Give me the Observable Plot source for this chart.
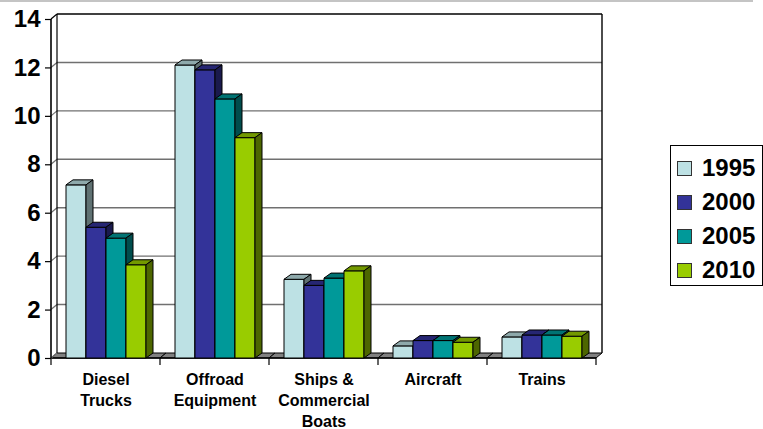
<!DOCTYPE html>
<html><head><meta charset="utf-8">
<script src="https://cdn.jsdelivr.net/npm/d3@7"></script>
<script src="https://cdn.jsdelivr.net/npm/@observablehq/plot@0.6"></script>
<style>
body{margin:0;background:#fff;font-family:"Liberation Sans",Arial,sans-serif;}
#wrap{position:relative;width:763px;height:429px;overflow:hidden;background:#fff;}
.topline{position:absolute;left:0;top:0;width:753px;height:2px;background:#c4c4c4;}
.legend{position:absolute;left:670px;top:145px;width:93px;height:141px;border:1px solid #000;box-sizing:border-box;background:#fff;}
.sw{position:absolute;left:6px;width:15px;height:15px;border:1px solid #333;box-sizing:border-box;}
.lt{position:absolute;left:31px;font-size:24px;font-weight:bold;line-height:28px;color:#000;white-space:nowrap;}
</style></head><body><div id="wrap"><div class="topline"></div></div>
<script>
const categories = ["Diesel Trucks","Offroad Equipment","Ships & Commercial Boats","Aircraft","Trains"];
const categoryLabels = ["Diesel\nTrucks","Offroad\nEquipment","Ships &\nCommercial\nBoats","Aircraft","Trains"];
const years = ["1995","2000","2005","2010"];
const colors = ["#BDE1E4","#333399","#009999","#99CC00"];
const values1995 = [7.15, 12.1, 3.25, 0.5, 0.87];
const values2000 = [5.4, 11.9, 3.0, 0.72, 0.95];
const values2005 = [4.95, 10.7, 3.3, 0.72, 0.95];
const values2010 = [3.85, 9.1, 3.6, 0.65, 0.9];
const yTicks = [0, 2, 4, 6, 8, 10, 12, 14];

const series = [values1995, values2000, values2005, values2010];
const data = [];
categories.forEach((c, i) => years.forEach((yr, j) => data.push({category: c, year: yr, value: series[j][i]})));
const wallData = categories.map(c => ({category: c}));

const DX = 7, DY = -5;   // bar depth
const WX = 6, WY = -5;   // wall depth
const shade = (c, k) => { const r = d3.rgb(c); return d3.rgb(r.r * k, r.g * k, r.b * k).formatHex(); };
const pts = a => a.map(p => p.join(",")).join(" ");

function wall3d(index, scales) {
  const {x, y} = scales;
  const [x0, x1] = x.range();
  const ci = categories.indexOf(wallData[index[0]].category);
  const g = d3.create("svg:g").attr("fill", "none");
  const y0 = y(0), yMax = d3.max(yTicks), yTop = y(yMax);
  for (const v of yTicks) {
    if (v === 0 || v === yMax) continue;
    g.append("line").attr("x1", x0 + WX).attr("x2", x1 + WX).attr("y1", y(v) + WY).attr("y2", y(v) + WY)
      .attr("stroke", "#707070").attr("stroke-width", 1.4);
  }
  g.append("line").attr("x1", x0 + WX).attr("x2", x1 + WX).attr("y1", yTop + WY).attr("y2", yTop + WY)
    .attr("stroke", "#000").attr("stroke-width", 1.4);
  g.append("polygon").attr("points", pts([[x0, y0], [x1, y0], [x1 + WX, y0 + WY], [x0 + WX, y0 + WY]]))
    .attr("fill", "#808080").attr("stroke", "#000").attr("stroke-width", 1).attr("stroke-linejoin", "round");
  g.append("line").attr("x1", x0).attr("x2", x1).attr("y1", y0).attr("y2", y0).attr("stroke", "#000").attr("stroke-width", 1.4);
  g.append("line").attr("x1", x0).attr("x2", x0).attr("y1", y0).attr("y2", y0 + 7).attr("stroke", "#000").attr("stroke-width", 1.2);
  if (ci === categories.length - 1) {
    g.append("line").attr("x1", x1).attr("x2", x1).attr("y1", y0).attr("y2", y0 + 7).attr("stroke", "#000").attr("stroke-width", 1.2);
    g.append("line").attr("x1", x1 + WX).attr("x2", x1 + WX).attr("y1", yTop + WY).attr("y2", y0 + WY).attr("stroke", "#000").attr("stroke-width", 1.4);
  }
  if (ci === 0) {
    for (const v of yTicks) {
      g.append("line").attr("x1", x0).attr("x2", x0 + WX).attr("y1", y(v)).attr("y2", y(v) + WY)
        .attr("stroke", v === yMax ? "#000" : "#707070").attr("stroke-width", 1.2);
    }
    g.append("line").attr("x1", x0 + WX).attr("x2", x0 + WX).attr("y1", yTop + WY).attr("y2", y0 + WY).attr("stroke", "#000").attr("stroke-width", 1.2);
    g.append("line").attr("x1", x0).attr("x2", x0).attr("y1", yTop).attr("y2", y0).attr("stroke", "#000").attr("stroke-width", 1.6);
  }
  return g.node();
}

function bars3d(index, scales) {
  const {x, y} = scales;
  const bw = typeof x.bandwidth === "function" ? x.bandwidth() : x.bandwidth;
  const g = d3.create("svg:g").attr("stroke", "#000").attr("stroke-width", 1).attr("stroke-linejoin", "round");
  const y0 = y(0);
  const idx = Array.from(index).sort((a, b) => years.indexOf(data[a].year) - years.indexOf(data[b].year));
  for (const i of idx) {
    const d = data[i];
    const c = colors[years.indexOf(d.year)];
    const xl = x(d.year), xr = xl + bw, yt = y(d.value);
    g.append("polygon").attr("points", pts([[xl, yt], [xr, yt], [xr, y0], [xl, y0]])).attr("fill", c);
    g.append("polygon").attr("points", pts([[xl, yt], [xl + DX, yt + DY], [xr + DX, yt + DY], [xr, yt]])).attr("fill", shade(c, 0.75));
    g.append("polygon").attr("points", pts([[xr, yt], [xr + DX, yt + DY], [xr + DX, y0 + DY], [xr, y0]])).attr("fill", shade(c, 0.5));
  }
  return g.node();
}

const chart = Plot.plot({
  width: 763,
  height: 429,
  marginLeft: 49,
  marginRight: 166,
  marginTop: 19,
  marginBottom: 71,
  style: {fontFamily: "'Liberation Sans', Arial, sans-serif", background: "transparent", color: "#000", overflow: "visible"},
  fx: {domain: categories, padding: 0, label: null},
  x: {domain: years, paddingInner: 0, paddingOuter: 0.69, axis: null},
  y: {domain: [0, 14], label: null},
  marks: [
    Plot.barY(wallData, {fx: "category", x: () => years[0], y1: 0, y2: 0, render: wall3d}),
    Plot.barY(data, {fx: "category", x: "year", y: "value", render: bars3d}),
    Plot.axisY(yTicks, {tickSize: 6, tickPadding: 5, fontSize: 24, fontWeight: "bold", label: null, stroke: "#000", strokeWidth: 1.2}),
    Plot.axisFx({anchor: "bottom", tickSize: 0, tickPadding: 12, fontSize: 16, fontWeight: "bold", lineHeight: 1.3, label: null,
      tickFormat: c => categoryLabels[categories.indexOf(c)]})
  ]
});
const wrap = d3.select("#wrap");
wrap.node().insertBefore(chart, wrap.node().firstChild);

const legend = wrap.append("div").attr("class", "legend");
years.forEach((yr, j) => {
  const cy = 22 + 34 * j;
  legend.append("div").attr("class", "sw").style("top", (cy - 7.5) + "px").style("background", colors[j]);
  legend.append("div").attr("class", "lt").style("top", (cy - 14) + "px").text(yr);
});
</script></body></html>
